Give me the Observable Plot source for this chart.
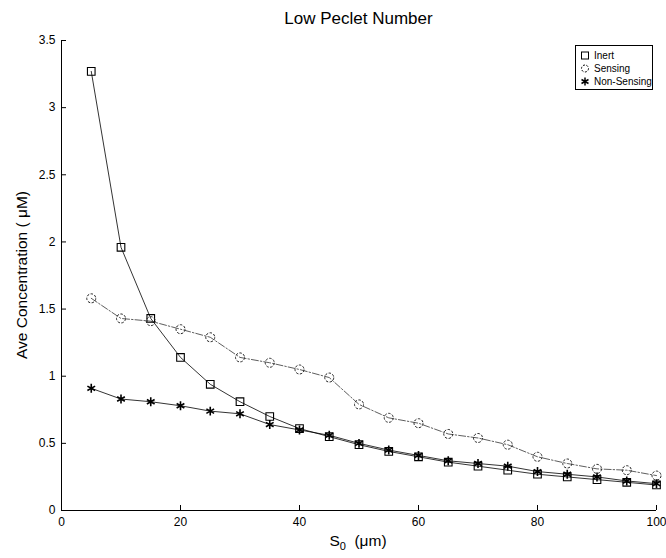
<!DOCTYPE html>
<html><head><meta charset="utf-8">
<script src="https://cdn.jsdelivr.net/npm/d3@7"></script>
<script src="https://cdn.jsdelivr.net/npm/@observablehq/plot@0.6"></script>
<style>
body{margin:0;background:#fff;font-family:"Liberation Sans",Arial,sans-serif;color:#000}
#wrap{position:relative;width:666px;height:558px}
.title{position:absolute;left:61px;width:595px;top:9px;text-align:center;font-size:17px}
.ylab{position:absolute;left:22px;top:275px;font-size:15.5px;white-space:nowrap;transform:translate(-50%,-50%) rotate(-90deg)}
.xlab{position:absolute;left:358px;top:532px;font-size:15.5px;white-space:nowrap;transform:translateX(-50%)}
.xlab sub{font-size:11px;vertical-align:-4px}
.legend{position:absolute;left:575px;top:45px;width:76px;height:43px;border:1px solid #000;background:#fff;font-size:10px}
.legend .row{position:absolute;left:0;height:13px;line-height:13px;white-space:nowrap}
.legend svg{position:absolute;left:3px;top:0}
.legend span{position:absolute;left:18px;top:0}
</style></head>
<body><div id="wrap"></div>
<script>
const s0 = [5,10,15,20,25,30,35,40,45,50,55,60,65,70,75,80,85,90,95,100];
const inert = [3.27,1.96,1.43,1.14,0.94,0.81,0.70,0.61,0.55,0.49,0.44,0.40,0.36,0.33,0.30,0.27,0.25,0.23,0.21,0.19];
const sensing = [1.58,1.43,1.41,1.35,1.29,1.14,1.10,1.05,0.99,0.79,0.69,0.65,0.57,0.54,0.49,0.40,0.35,0.31,0.30,0.26];
const nonSensing = [0.91,0.83,0.81,0.78,0.74,0.72,0.64,0.60,0.56,0.50,0.45,0.41,0.37,0.35,0.33,0.29,0.27,0.25,0.22,0.20];
const seriesNames = ["Inert","Sensing","Non-Sensing"];
const xTicks = [0,20,40,60,80,100];
const yTicks = [0,0.5,1,1.5,2,2.5,3,3.5];
const titleText = "Low Peclet Number";
const yLabel = "Ave Concentration ( \u03BCM)";

const seriesValues = [inert, sensing, nonSensing];
const rows = [];
seriesNames.forEach((name, i) => s0.forEach((x, j) => rows.push({series: name, s0: x, value: seriesValues[i][j]})));

const W = 666, H = 558, mt = 40, mb = 48, ml = 61, mr = 10;
const innerH = H - mt - mb, innerW = W - ml - mr;

const plot = Plot.plot({
  width: W, height: H,
  marginTop: mt, marginBottom: mb, marginLeft: ml, marginRight: mr,
  style: {fontFamily: '"Liberation Sans",Arial,sans-serif', fontSize: "12px", color: "#000", background: "#fff", overflow: "visible"},
  x: {domain: [0, 100], ticks: xTicks, tickFormat: d => String(d), tickSize: 0, tickPadding: 7, label: null},
  y: {domain: [0, 3.5], ticks: yTicks, tickFormat: d => String(d), tickSize: 0, tickPadding: 6, label: null},
  marks: [
    Plot.ruleY([0], {stroke: "#000", strokeWidth: 1.2}),
    Plot.ruleX([0], {stroke: "#000", strokeWidth: 1}),
    Plot.tickX(xTicks, {x: d => d, insetTop: innerH - 5, stroke: "#000"}),
    Plot.tickY(yTicks, {y: d => d, insetRight: innerW - 5, stroke: "#000"}),
    Plot.line(rows.filter(d => d.series === "Inert"), {x: "s0", y: "value", stroke: "#000", strokeWidth: 0.8}),
    Plot.line(rows.filter(d => d.series === "Sensing"), {x: "s0", y: "value", stroke: "#333", strokeWidth: 0.8, strokeDasharray: "7,2,1.5,2"}),
    Plot.line(rows.filter(d => d.series === "Non-Sensing"), {x: "s0", y: "value", stroke: "#000", strokeWidth: 0.8}),
    Plot.dot(rows.filter(d => d.series === "Inert"), {x: "s0", y: "value", symbol: "square", r: 4.3, stroke: "#000", strokeWidth: 1.1, fill: "none"}),
    Plot.dot(rows.filter(d => d.series === "Sensing"), {x: "s0", y: "value", symbol: "circle", r: 4.5, stroke: "#222", strokeWidth: 1, fill: "none", strokeDasharray: "2.5,1.5"}),
    Plot.dot(rows.filter(d => d.series === "Non-Sensing"), {x: "s0", y: "value", symbol: "asterisk", r: 4.2, stroke: "#000", strokeWidth: 1.6})
  ]
});

const wrap = document.getElementById("wrap");
wrap.appendChild(plot);

const t = document.createElement("div"); t.className = "title"; t.textContent = titleText; wrap.appendChild(t);
const yl = document.createElement("div"); yl.className = "ylab"; yl.textContent = yLabel; wrap.appendChild(yl);
const xl = document.createElement("div"); xl.className = "xlab"; xl.innerHTML = "S<sub>0</sub>&nbsp;&nbsp;(\u03BCm)"; wrap.appendChild(xl);

const lg = document.createElement("div"); lg.className = "legend";
const legendSymbols = [
  '<rect x="2.5" y="3" width="7" height="7" fill="none" stroke="#000" stroke-width="1"/>',
  '<circle cx="6" cy="6.5" r="3.5" fill="none" stroke="#000" stroke-width="1" stroke-dasharray="2,1.5"/>',
  '<path d="M6,2.5V10.5M2.5,4.5L9.5,8.5M2.5,8.5L9.5,4.5" stroke="#000" stroke-width="1.5"/>'
];
seriesNames.forEach((name, i) => {
  const r = document.createElement("div"); r.className = "row"; r.style.top = (3 + i * 13) + "px";
  r.innerHTML = '<svg width="12" height="13">' + legendSymbols[i] + '</svg><span>' + name + '</span>';
  lg.appendChild(r);
});
wrap.appendChild(lg);
</script>
</body></html>
